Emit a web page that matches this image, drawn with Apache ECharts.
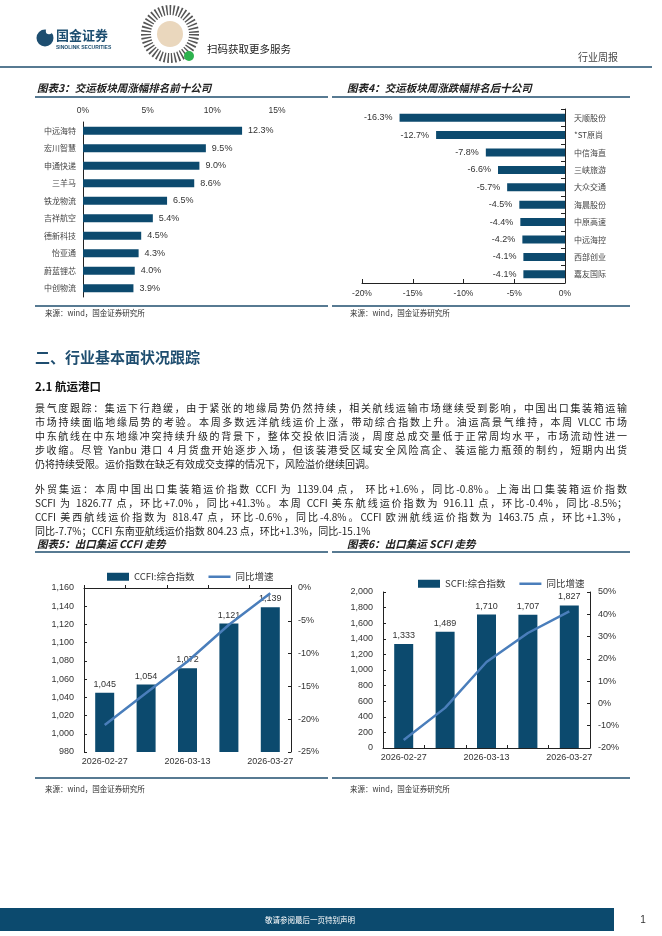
<!DOCTYPE html>
<html><head><meta charset="utf-8">
<script src="https://cdn.jsdelivr.net/npm/echarts@6/dist/echarts.min.js"></script>
<style>
html,body{margin:0;padding:0;background:#fff;}
#page{position:relative;width:662px;height:936px;overflow:hidden;background:#fff;}
#chart{position:absolute;left:0;top:0;width:662px;height:936px;}
.ln{position:absolute;left:35px;width:592px;font-family:'Noto Sans CJK SC',sans-serif;font-size:10px;line-height:14px;height:14px;color:#222;}
.j{text-align:justify;text-align-last:justify;}
</style></head>
<body>
<div id="page">
<div id="chart"></div>
<div id="prose"></div>
</div>
<script>
// ---- data ----
const top10Names = ['中远海特','宏川智慧','申通快递','三羊马','铁龙物流','吉祥航空','德新科技','怡亚通','蔚蓝锂芯','中创物流'];
const top10Values = [12.3, 9.5, 9.0, 8.6, 6.5, 5.4, 4.5, 4.3, 4.0, 3.9];
const bottom10Names = ['天顺股份','*ST原尚','中信海直','三峡旅游','大众交通','海晨股份','中原高速','中远海控','西部创业','嘉友国际'];
const bottom10Values = [-16.3, -12.7, -7.8, -6.6, -5.7, -4.5, -4.4, -4.2, -4.1, -4.1];
const dates = ['2026-02-27','2026-03-06','2026-03-13','2026-03-20','2026-03-27'];
const ccfiIndex = [1045, 1054, 1072, 1121, 1139];
const ccfiYoY = [-20.9, -16.0, -11.2, -5.6, -0.8];
const scfiIndex = [1333, 1489, 1710, 1707, 1827];
const scfiYoY = [-16.4, -2.0, 18.6, 31.6, 41.3];

const para1 = [
 '景气度跟踪：集运下行趋缓，由于紧张的地缘局势仍然持续，相关航线运输市场继续受到影响，中国出口集装箱运输',
 '市场持续面临地缘局势的考验。本周多数远洋航线运价上涨，带动综合指数上升。油运高景气维持，本周 VLCC 市场',
 '中东航线在中东地缘冲突持续升级的背景下，整体交投依旧清淡，周度总成交量低于正常周均水平，市场流动性进一',
 '步收缩。尽管 Yanbu 港口 4 月货盘开始逐步入场，但该装港受区域安全风险高企、装运能力瓶颈的制约，短期内出货',
 '仍将持续受限。运价指数在缺乏有效成交支撑的情况下，风险溢价继续回调。'
];
const para2 = [
 '外贸集运：本周中国出口集装箱运价指数 CCFI 为 1139.04 点， 环比+1.6%，同比-0.8%。上海出口集装箱运价指数',
 'SCFI 为 1826.77 点，环比+7.0%，同比+41.3%。本周 CCFI 美东航线运价指数为 916.11 点，环比-0.4%，同比-8.5%；',
 'CCFI 美西航线运价指数为 818.47 点，环比-0.6%，同比-4.8%。CCFI 欧洲航线运价指数为 1463.75 点，环比+1.3%，',
 '同比-7.7%；CCFI 东南亚航线运价指数 804.23 点，环比+1.3%，同比-15.1%'
];

// ---- prose ----
const prose = document.getElementById('prose');
function addLines(lines, startY){
  lines.forEach((t,i)=>{
    const d = document.createElement('div');
    d.className = 'ln' + (i < lines.length-1 ? ' j' : '');
    d.style.top = (startY + i*14 - 7) + 'px';
    d.textContent = t;
    prose.appendChild(d);
  });
}
addLines(para1, 408);
addLines(para2, 489);

// ---- chart ----
const NAVY = '#0c4a6e';
const LINE = '#4a7ebb';
const AX = '#222';
const CJK = "'Noto Sans CJK SC', sans-serif";
const LAT = "'Liberation Sans', Arial, sans-serif";
const chart = echarts.init(document.getElementById('chart'), null, {renderer:'canvas'});

function txt(x,y,text,opt){
  return Object.assign({type:'text', x:x, y:y, silent:true,
    style:Object.assign({text:text, fill:'#222', font:'10px '+CJK, textVerticalAlign:'middle'}, opt||{})});
}
function hline(x1,x2,y,color,w){
  return {type:'line', silent:true, shape:{x1:x1,y1:y,x2:x2,y2:y}, style:{stroke:color||'#1f4e6e', lineWidth:w||1.5}};
}
const fmtComma = v => Number(v).toLocaleString('en-US');
const lineIcon = 'path://M0,0h22v2.5h-22z';

const graphic = [
  // header logo
  {type:'circle', shape:{cx:45, cy:38, r:8.5}, style:{fill:'#1d4e70'}, silent:true},
  {type:'circle', shape:{cx:49, cy:31, r:3.2}, style:{fill:'#fff'}, silent:true},
  txt(56, 35, '国金证券', {font:'bold 13px '+CJK, fill:'#1d4e70'}),
  txt(56, 48, 'SINOLINK SECURITIES', {font:'bold 5px '+LAT, fill:'#1d4e70'}),
  // QR mini code
  {type:'circle', shape:{cx:170, cy:34, r:24}, style:{fill:'none', stroke:'#555', lineWidth:10, lineDash:[1.5,2]}, silent:true},
  {type:'circle', shape:{cx:170, cy:34, r:13}, style:{fill:'#ead7bd'}, silent:true},
  {type:'circle', shape:{cx:189, cy:56, r:5}, style:{fill:'#2db24e'}, silent:true},
  txt(207, 49, '扫码获取更多服务', {font:'10.5px '+CJK, fill:'#222'}),
  txt(578, 57, '行业周报', {font:'10px '+CJK, fill:'#444'}),
  hline(0, 652, 67, '#1f4e6e', 1.5),
  // chart titles
  txt(37, 88, '图表3：交运板块周涨幅排名前十公司', {font:'italic bold 10.5px '+CJK}),
  hline(35, 328, 97),
  txt(347, 88, '图表4：交运板块周涨跌幅排名后十公司', {font:'italic bold 10.5px '+CJK}),
  hline(332, 630, 97),
  hline(35, 328, 306),
  txt(45, 313, '来源：wind，国金证券研究所', {font:'7.5px '+CJK, fill:'#333'}),
  hline(332, 630, 306),
  txt(350, 313, '来源：wind，国金证券研究所', {font:'7.5px '+CJK, fill:'#333'}),
  // section headings
  txt(35, 357, '二、行业基本面状况跟踪', {font:'bold 15px '+CJK, fill:'#1e4d6f'}),
  txt(35, 387, '2.1 航运港口', {font:'bold 11.5px '+CJK, fill:'#111'}),
  // charts 5/6 titles
  txt(37, 544, '图表5：出口集运 CCFI 走势', {font:'italic bold 10.5px '+CJK}),
  hline(35, 328, 552),
  txt(347, 544, '图表6：出口集运 SCFI 走势', {font:'italic bold 10.5px '+CJK}),
  hline(332, 630, 552),
  hline(35, 328, 778),
  txt(45, 789, '来源：wind，国金证券研究所', {font:'7.5px '+CJK, fill:'#333'}),
  hline(332, 630, 778),
  txt(350, 789, '来源：wind，国金证券研究所', {font:'7.5px '+CJK, fill:'#333'}),
  // footer
  {type:'rect', shape:{x:0, y:908, width:614, height:23}, style:{fill:'#0c4a6e'}, silent:true},
  txt(310, 920, '敬请参阅最后一页特别声明', {font:'7.5px '+CJK, fill:'#fff', textAlign:'center'}),
  txt(643, 920, '1', {font:'10px '+LAT, fill:'#333', textAlign:'center'})
];

const catLabel = {color:'#444', fontSize:8, fontFamily:CJK};
const numLabel = {color:'#333', fontSize:9, fontFamily:LAT};

const option = {
  animation:false,
  backgroundColor:'transparent',
  graphic: graphic,
  legend:[
    {left:102, top:567, itemWidth:22, itemHeight:8, itemGap:14,
     data:[{name:'CCFI:综合指数', icon:'rect'}, {name:'同比增速', icon:lineIcon}],
     textStyle:{fontSize:9.5, color:'#333', fontFamily:CJK}, selectedMode:false},
    {left:413, top:574, itemWidth:22, itemHeight:8, itemGap:14,
     data:[{name:'SCFI:综合指数', icon:'rect'}, {name:'同比增速', icon:lineIcon}],
     textStyle:{fontSize:9.5, color:'#333', fontFamily:CJK}, selectedMode:false}
  ],
  grid:[
    {left:83, top:122, width:194, height:175},
    {left:362, top:109, width:203, height:174},
    {left:84, top:588, width:207, height:164},
    {left:383, top:592, width:207, height:156}
  ],
  xAxis:[
    {gridIndex:0, type:'value', position:'top', min:0, max:15, interval:5,
     axisLine:{show:false}, axisTick:{show:false}, splitLine:{show:false},
     axisLabel:Object.assign({formatter:'{value}%', margin:7}, numLabel, {fontSize:8.5})},
    {gridIndex:1, type:'value', position:'bottom', min:-20, max:0, interval:5,
     axisLine:{show:true, lineStyle:{color:AX}}, axisTick:{show:true, inside:true, length:4, lineStyle:{color:AX}}, splitLine:{show:false},
     axisLabel:Object.assign({formatter:'{value}%', margin:6}, numLabel, {fontSize:8.5})},
    {gridIndex:2, type:'category', data:dates, boundaryGap:true,
     axisLine:{lineStyle:{color:AX}}, axisTick:{show:true, inside:true, length:3, interval:0, lineStyle:{color:AX}},
     axisLabel:Object.assign({interval:1, margin:5}, numLabel)},
    {gridIndex:3, type:'category', data:dates, boundaryGap:true,
     axisLine:{lineStyle:{color:AX}}, axisTick:{show:true, inside:true, length:3, interval:0, lineStyle:{color:AX}},
     axisLabel:Object.assign({interval:1, margin:5}, numLabel)}
  ],
  yAxis:[
    {gridIndex:0, type:'category', data:top10Names, inverse:true,
     axisLine:{show:true, lineStyle:{color:AX}}, axisTick:{show:false},
     axisLabel:Object.assign({margin:7}, catLabel)},
    {gridIndex:1, type:'category', data:bottom10Names, inverse:true, position:'right',
     axisLine:{show:true, lineStyle:{color:AX}}, axisTick:{show:true, inside:true, length:4, lineStyle:{color:AX}},
     axisLabel:Object.assign({margin:9}, catLabel)},
    {gridIndex:2, type:'value', min:980, max:1160, interval:20,
     axisLine:{show:true, lineStyle:{color:AX}}, axisTick:{show:true, inside:true, length:3, lineStyle:{color:AX}}, splitLine:{show:false},
     axisLabel:Object.assign({formatter:fmtComma, margin:10}, numLabel)},
    {gridIndex:2, type:'value', position:'right', min:-25, max:0, interval:5,
     axisLine:{show:true, lineStyle:{color:AX}}, axisTick:{show:true, inside:true, length:3, lineStyle:{color:AX}}, splitLine:{show:false},
     axisLabel:Object.assign({formatter:'{value}%', margin:7}, numLabel)},
    {gridIndex:3, type:'value', min:0, max:2000, interval:200,
     axisLine:{show:true, lineStyle:{color:AX}}, axisTick:{show:true, inside:true, length:3, lineStyle:{color:AX}}, splitLine:{show:false},
     axisLabel:Object.assign({formatter:fmtComma, margin:10}, numLabel)},
    {gridIndex:3, type:'value', position:'right', min:-20, max:50, interval:10,
     axisLine:{show:true, lineStyle:{color:AX}}, axisTick:{show:true, inside:true, length:3, lineStyle:{color:AX}}, splitLine:{show:false},
     axisLabel:Object.assign({formatter:'{value}%', margin:8}, numLabel)}
  ],
  series:[
    {type:'bar', xAxisIndex:0, yAxisIndex:0, data:top10Values, barWidth:8, itemStyle:{color:NAVY},
     label:Object.assign({show:true, position:'right', distance:6, formatter:p=>p.value.toFixed(1)+'%'}, numLabel)},
    {type:'bar', xAxisIndex:1, yAxisIndex:1, data:bottom10Values, barWidth:8, itemStyle:{color:NAVY},
     label:Object.assign({show:true, position:'left', distance:7, formatter:p=>p.value.toFixed(1)+'%'}, numLabel)},
    {name:'CCFI:综合指数', type:'bar', xAxisIndex:2, yAxisIndex:2, data:ccfiIndex, barWidth:19, itemStyle:{color:NAVY},
     label:Object.assign({show:true, position:'top', distance:4, formatter:p=>fmtComma(p.value)}, numLabel)},
    {name:'同比增速', type:'line', xAxisIndex:2, yAxisIndex:3, data:ccfiYoY, symbol:'none', z:5,
     lineStyle:{color:LINE, width:2.5}, itemStyle:{color:LINE}},
    {name:'SCFI:综合指数', type:'bar', xAxisIndex:3, yAxisIndex:4, data:scfiIndex, barWidth:19, itemStyle:{color:NAVY},
     label:Object.assign({show:true, position:'top', distance:4, formatter:p=>fmtComma(p.value)}, numLabel)},
    {name:'同比增速', type:'line', xAxisIndex:3, yAxisIndex:5, data:scfiYoY, symbol:'none', z:5,
     lineStyle:{color:LINE, width:2.5}, itemStyle:{color:LINE}}
  ]
};
chart.setOption(option);
</script>
</body></html>
